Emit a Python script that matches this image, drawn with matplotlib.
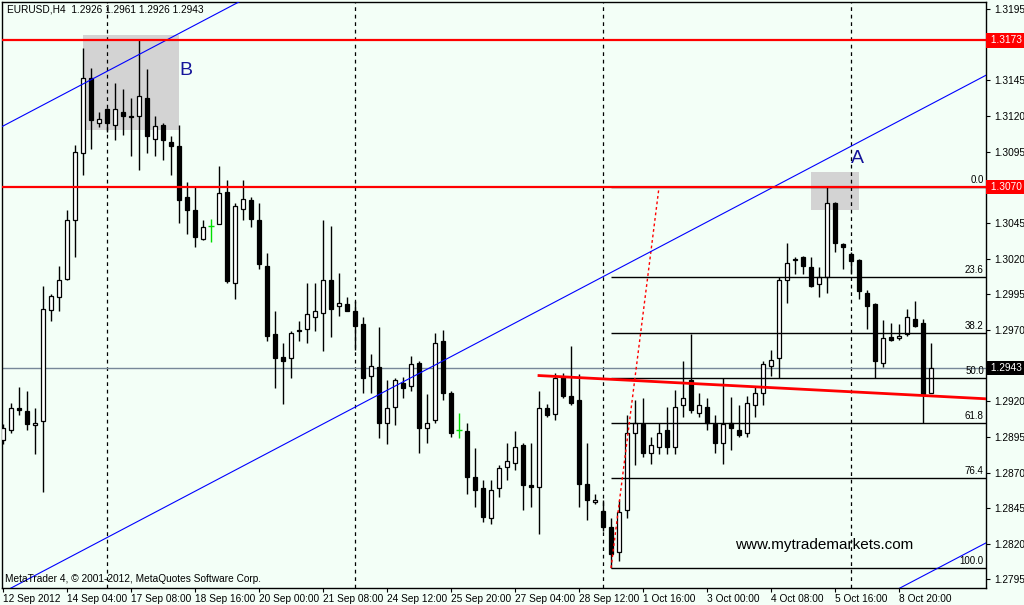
import matplotlib.pyplot as plt
from matplotlib.patches import Rectangle

# EURUSD H4 candles
opens = [1.2893, 1.2900, 1.2915, 1.2913, 1.2903, 1.2906, 1.2984, 1.2993, 1.3006, 1.3047,
         1.3094, 1.3147, 1.3115, 1.3125, 1.3114, 1.3123, 1.3120, 1.3120, 1.3133, 1.3104,
         1.3114, 1.3102, 1.3099, 1.3063, 1.3054, 1.3034, 1.3043, 1.3044, 1.3067, 1.3003,
         1.3055, 1.3061, 1.3047, 1.3015, 1.2967, 1.2951, 1.2950, 1.2970, 1.2971, 1.2979,
         1.2982, 1.3005, 1.2987, 1.2988, 1.2983, 1.2974, 1.2938, 1.2944, 1.2905, 1.2916,
         1.2933, 1.2931, 1.2947, 1.2901, 1.2907, 1.2962, 1.2926, 1.2900, 1.2899, 1.2867,
         1.2859, 1.2838, 1.2859, 1.2874, 1.2877, 1.2889, 1.2861, 1.2860, 1.2915, 1.2911,
         1.2937, 1.2924, 1.2921, 1.2862, 1.2849, 1.2843, 1.2832, 1.2814, 1.2844, 1.2898,
         1.2904, 1.2884, 1.2888, 1.2900, 1.2888, 1.2917, 1.2935, 1.2912, 1.2916, 1.2904,
         1.2891, 1.2905, 1.2900, 1.2898, 1.2917, 1.2926, 1.2945, 1.2950, 1.3005, 1.3020,
         1.3021, 1.3014, 1.3002, 1.3007, 1.3059, 1.3030, 1.3023, 1.3019, 1.2996, 1.2988,
         1.2947, 1.2965, 1.2964, 1.2967, 1.2978, 1.2975, 1.2926]
highs = [1.2904, 1.2919, 1.2930, 1.2927, 1.2915, 1.3001, 1.2995, 1.3015, 1.3054, 1.3100,
         1.3168, 1.3154, 1.3123, 1.3126, 1.3143, 1.3139, 1.3133, 1.3173, 1.3153, 1.3120,
         1.3115, 1.3106, 1.3114, 1.3074, 1.3071, 1.3047, 1.3048, 1.3085, 1.3075, 1.3059,
         1.3075, 1.3063, 1.3059, 1.3024, 1.2983, 1.2961, 1.2969, 1.2976, 1.3003, 1.3003,
         1.3047, 1.3043, 1.3010, 1.2993, 1.2990, 1.2979, 1.2953, 1.2972, 1.2935, 1.2936,
         1.2937, 1.2952, 1.2948, 1.2925, 1.2968, 1.2970, 1.2927, 1.2912, 1.2905, 1.2887,
         1.2865, 1.2865, 1.2875, 1.2891, 1.2899, 1.2891, 1.2891, 1.2927, 1.2918, 1.2940,
         1.2940, 1.2959, 1.2939, 1.2891, 1.2855, 1.2851, 1.2838, 1.2851, 1.2910, 1.2921,
         1.2922, 1.2895, 1.2905, 1.2916, 1.2928, 1.2948, 1.2967, 1.2926, 1.2922, 1.2910,
         1.2936, 1.2923, 1.2917, 1.2924, 1.2931, 1.2948, 1.2956, 1.3007, 1.3031, 1.3021,
         1.3022, 1.3021, 1.3014, 1.3070, 1.3060, 1.3031, 1.3025, 1.3020, 1.2998, 1.2989,
         1.2977, 1.2975, 1.2974, 1.2985, 1.2990, 1.2978, 1.2961]
lows = [1.2890, 1.2898, 1.2910, 1.2900, 1.2883, 1.2856, 1.2976, 1.2983, 1.3005, 1.3021,
        1.3079, 1.3097, 1.3112, 1.3109, 1.3103, 1.3107, 1.3092, 1.3082, 1.3094, 1.3092,
        1.3089, 1.3079, 1.3045, 1.3037, 1.3028, 1.3033, 1.3032, 1.3044, 1.3003, 1.2992,
        1.3047, 1.3042, 1.3013, 1.2962, 1.2929, 1.2918, 1.2936, 1.2962, 1.2961, 1.2969,
        1.2955, 1.2965, 1.2980, 1.2983, 1.2956, 1.2926, 1.2926, 1.2894, 1.2890, 1.2903,
        1.2922, 1.2927, 1.2884, 1.2891, 1.2905, 1.2921, 1.2895, 1.2894, 1.2855, 1.2846,
        1.2835, 1.2834, 1.2853, 1.2865, 1.2872, 1.2844, 1.2846, 1.2827, 1.2909, 1.2907,
        1.2922, 1.2917, 1.2846, 1.2837, 1.2848, 1.2829, 1.2803, 1.2808, 1.2838, 1.2875,
        1.2881, 1.2876, 1.2883, 1.2883, 1.2883, 1.2909, 1.2912, 1.2909, 1.2900, 1.2884,
        1.2876, 1.2886, 1.2895, 1.2895, 1.2909, 1.2917, 1.2938, 1.2936, 1.2989, 1.3009,
        1.3009, 1.3000, 1.2993, 1.2996, 1.3025, 1.3013, 1.3009, 1.2992, 1.2971, 1.2936,
        1.2944, 1.2962, 1.2963, 1.2966, 1.2972, 1.2905, 1.2926]
closes = [1.2901, 1.2915, 1.2914, 1.2904, 1.2905, 1.2985, 1.2994, 1.3005, 1.3047, 1.3095,
          1.3147, 1.3117, 1.3118, 1.3115, 1.3125, 1.3120, 1.3119, 1.3134, 1.3106, 1.3113,
          1.3103, 1.3099, 1.3061, 1.3054, 1.3035, 1.3042, 1.3043, 1.3066, 1.3004, 1.3057,
          1.3062, 1.3048, 1.3016, 1.2966, 1.2950, 1.2948, 1.2968, 1.2969, 1.2981, 1.2983,
          1.3005, 1.2985, 1.2989, 1.2983, 1.2973, 1.2936, 1.2945, 1.2905, 1.2915, 1.2935,
          1.2929, 1.2946, 1.2901, 1.2905, 1.2961, 1.2926, 1.2898, 1.2900, 1.2867, 1.2858,
          1.2839, 1.2858, 1.2873, 1.2878, 1.2888, 1.2861, 1.2860, 1.2915, 1.2910, 1.2936,
          1.2924, 1.2919, 1.2862, 1.2851, 1.2851, 1.2832, 1.2813, 1.2842, 1.2898, 1.2905,
          1.2884, 1.2889, 1.2898, 1.2888, 1.2916, 1.2922, 1.2914, 1.2917, 1.2905, 1.2891,
          1.2904, 1.2901, 1.2896, 1.2919, 1.2926, 1.2946, 1.2949, 1.3005, 1.3017, 1.3019,
          1.3015, 1.3001, 1.3007, 1.3059, 1.3031, 1.3028, 1.3018, 1.2997, 1.2987, 1.2948,
          1.2964, 1.2963, 1.2966, 1.2979, 1.2973, 1.2925, 1.2943]

date_labels = ["12 Sep 2012", "14 Sep 04:00", "17 Sep 08:00", "18 Sep 16:00", "20 Sep 00:00",
               "21 Sep 08:00", "24 Sep 12:00", "25 Sep 20:00", "27 Sep 04:00", "28 Sep 12:00",
               "1 Oct 16:00", "3 Oct 00:00", "4 Oct 08:00", "5 Oct 16:00", "8 Oct 20:00"]
date_bars = [0, 8, 16, 24, 32, 40, 48, 56, 64, 72, 80, 88, 96, 104, 112]
price_ticks = [1.2795, 1.2820, 1.2845, 1.2870, 1.2895, 1.2920, 1.2945, 1.2970,
               1.2995, 1.3020, 1.3045, 1.3070, 1.3095, 1.3120, 1.3145, 1.3170, 1.3195]
# scale labels that sit under the coloured price boxes
hidden_ticks = [1.2945, 1.3070, 1.3170]

separators = [13, 44, 75, 106]
h_levels = [1.3173, 1.3070]
last_price = 1.2943

# fibonacci: anchors (bar, price)
fib_low = (76, 1.2803)
fib_high = (82, 1.3070)
fib_levels = [0.0, 23.6, 38.2, 50.0, 61.8, 76.4, 100.0]

# blue channel, three parallel lines given by two points each
channel = [((0, 1.3113), (123, 1.3476)),
           ((0, 1.2786), (123, 1.3149)),
           ((0, 1.2459), (123, 1.2821))]
red_trend = ((67, 1.2938), (115, 1.2924))

boxes = [(10, 22, 1.3110, 1.3177), (101, 107, 1.3054, 1.3081)]
box_letters = [("B", 22.9, 1.3152), ("A", 106.8, 1.3090)]

bg = '#F3FFF7'
font = 'Liberation Sans'

fig = plt.figure(figsize=(10.24, 6.05), dpi=100, facecolor=bg)
W, H = 1024, 605
ax = fig.add_axes([2 / W, 1 - 588 / H, 984 / W, 586 / H])
ax.set_facecolor(bg)
xmin, xmax = -0.125, 122.875
ax.set_xlim(xmin, xmax)
ax.set_ylim(1.2789, 1.3200)

# rectangles in background
for x0, x1, p0, p1 in boxes:
    ax.add_patch(Rectangle((x0, p0), x1 - x0, p1 - p0, fc='#D3D3D3', ec='none', zorder=1))

for s in separators:
    ax.axvline(s, color='black', lw=0.9, ls=(0, (3, 3)), zorder=1.5)

ax.axhline(last_price, color='#778899', lw=1.0, zorder=1.5)

# candles
for i in range(len(opens)):
    o, h, l, c = opens[i], highs[i], lows[i], closes[i]
    if o == c:
        ax.vlines(i, l, h, color='#00DD00', lw=1.0, zorder=3)
        ax.hlines(o, i - 0.35, i + 0.35, color='#00DD00', lw=1.0, zorder=3)
        continue
    ax.vlines(i, l, h, color='black', lw=1.0, zorder=3)
    fc = 'white' if c > o else 'black'
    bot = min(o, c)
    hgt = max(abs(c - o), 0.00005)
    ax.add_patch(Rectangle((i - 0.3, bot), 0.6, hgt, fc=fc, ec='black', lw=0.9, zorder=3.5))

# fibonacci levels
rng = fib_high[1] - fib_low[1]
for lv in fib_levels:
    p = fib_high[1] - lv / 100 * rng
    ax.hlines(p, fib_low[0], xmax, color='black', lw=1.0, zorder=4)
    ax.text(122.6, p + 0.00013, f"{lv:.1f}", ha='right', va='bottom', fontsize=7,
            family=font, zorder=6)
ax.plot([fib_low[0], fib_high[0]], [fib_low[1], fib_high[1]], color='red', lw=1.0,
        ls=(0, (2, 2)), zorder=4)

# channel lines
for (xa, pa), (xb, pb) in channel:
    k = (pb - pa) / (xb - xa)
    ax.plot([xmin, xmax], [pa + k * (xmin - xa), pa + k * (xmax - xa)], color='#0000FF',
            lw=0.8, zorder=4)

(xa, pa), (xb, pb) = red_trend
k = (pb - pa) / (xb - xa)
ax.plot([xa, xmax], [pa, pa + k * (xmax - xa)], color='red', lw=2.0, zorder=5)

for lvl in h_levels:
    ax.axhline(lvl, color='red', lw=1.6, zorder=5)

for t, x, p in box_letters:
    ax.text(x, p, t, color='#15159A', fontsize=14, family=font, ha='center', va='center',
            zorder=6)

# axes styling
for sp in ax.spines.values():
    sp.set_color('black')
    sp.set_linewidth(1.0)
ax.yaxis.tick_right()
ax.set_yticks(price_ticks)
ax.set_yticklabels(["" if p in hidden_ticks else f"{p:.4f}" for p in price_ticks],
                   family=font, fontsize=7.3)
ax.tick_params(axis='y', direction='out', length=3, width=0.8, pad=3)
ax.set_xticks(date_bars)
ax.set_xticklabels(date_labels, family=font, fontsize=7.3, ha='left')
ax.tick_params(axis='x', direction='out', length=3, width=0.8, pad=1)

ytr = ax.get_yaxis_transform()
for lvl in h_levels:
    ax.text(1.0025, lvl, f" {lvl:.4f} ", transform=ytr, ha='left', va='center', color='white',
            fontsize=7.3, family=font, zorder=7,
            bbox=dict(boxstyle='square,pad=0.2', fc='#FF0000', ec='none'))
ax.text(1.0025, last_price, f" {last_price:.4f} ", transform=ytr, ha='left', va='center',
        color='white', fontsize=7.3, family=font, zorder=7,
        bbox=dict(boxstyle='square,pad=0.2', fc='black', ec='none'))

fig.text(7 / W, 1 - 10 / H, "EURUSD,H4  1.2926 1.2961 1.2926 1.2943", fontsize=7.3,
         family=font, va='center', ha='left')
fig.text(5 / W, 1 - 579 / H, "MetaTrader 4, \u00a9 2001-2012, MetaQuotes Software Corp.",
         fontsize=7.3, family=font, va='center', ha='left')
fig.text(735 / W, 1 - 545 / H, "www.mytrademarkets.com", fontsize=11, family=font,
         va='center', ha='left')

fig.savefig('out.png', dpi=100, facecolor=bg)
